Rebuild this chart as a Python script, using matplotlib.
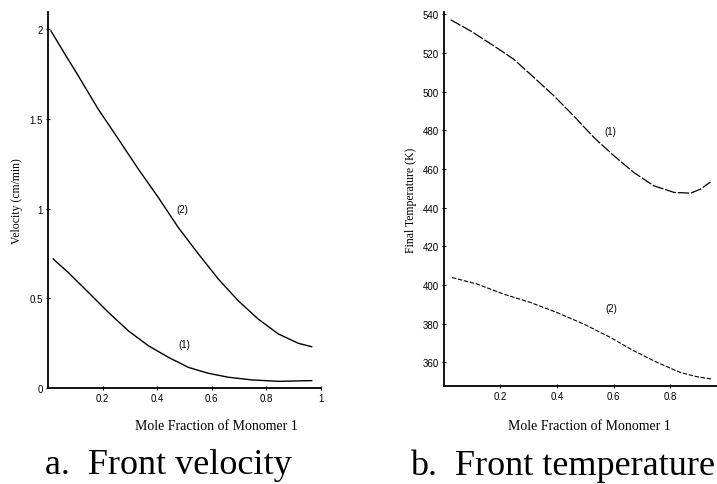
import numpy as np
import matplotlib
matplotlib.use("Agg")
import matplotlib.pyplot as plt

# front velocity (cm/min) vs mole fraction of monomer 1
vel_2x = [0.011, 0.062, 0.111, 0.184, 0.258, 0.331, 0.404, 0.477, 0.551,
          0.624, 0.697, 0.77, 0.844, 0.917, 0.966]
vel_2 = [1.99, 1.861, 1.74, 1.554, 1.387, 1.22, 1.062, 0.895, 0.747,
         0.607, 0.486, 0.384, 0.301, 0.249, 0.23]
vel_1x = [0.019, 0.074, 0.148, 0.221, 0.294, 0.367, 0.441, 0.514, 0.587,
          0.66, 0.746, 0.844, 0.966]
vel_1 = [0.719, 0.644, 0.533, 0.422, 0.319, 0.236, 0.171, 0.115, 0.082,
         0.06, 0.045, 0.037, 0.041]

# final temperature (K)
temp_1x = [0.024, 0.094, 0.177, 0.247, 0.318, 0.389, 0.459, 0.53, 0.601,
           0.671, 0.742, 0.813, 0.872, 0.907, 0.942]
temp_1 = [537.1, 531.4, 523.6, 516.7, 507.3, 497.8, 487.4, 476.3, 466.8,
          458.2, 451.3, 447.9, 447.5, 449.6, 453.3]
temp_2x = [0.029, 0.118, 0.212, 0.306, 0.4, 0.495, 0.589, 0.671, 0.754,
           0.836, 0.895, 0.948]
temp_2 = [403.9, 400.5, 395.3, 391.0, 385.8, 379.8, 372.9, 366.0, 360.0,
          354.8, 352.6, 351.4]

vel_ticks = [0, 0.5, 1, 1.5, 2]
vel_ticklabels = ["0", "0.5", "1", "1.5", "2"]
xticks_a = [0.2, 0.4, 0.6, 0.8, 1]
xticklabels_a = ["0.2", "0.4", "0.6", "0.8", "1"]
xticks_b = [0.2, 0.4, 0.6, 0.8]
xticklabels_b = ["0.2", "0.4", "0.6", "0.8"]
temp_ticks = [360, 380, 400, 420, 440, 460, 480, 500, 520, 540]

fig = plt.figure(figsize=(7.17, 4.85), dpi=100)
ax1 = fig.add_axes([0.0669, 0.198, 0.3808, 0.775])
ax2 = fig.add_axes([0.619, 0.2027, 0.381, 0.770])

sans = "Liberation Sans"
serif = "Liberation Serif"
tickfont = dict(family=sans, size=7)

for ax in (ax1, ax2):
    for s in ("top", "right"):
        ax.spines[s].set_visible(False)
    for s in ("left", "bottom"):
        ax.spines[s].set_linewidth(1.3)
    ax.tick_params(direction="inout", length=3, width=0.8, pad=2)

# panel a
ax1.plot(vel_2x, vel_2, color="black", lw=1.0)
ax1.plot(vel_1x, vel_1, color="black", lw=1.0)
ax1.set_xlim(0, 1)
ax1.set_ylim(0, 2.095)
ax1.set_xticks(xticks_a)
ax1.set_xticklabels(xticklabels_a, fontdict=tickfont)
ax1.set_yticks(vel_ticks)
ax1.set_yticklabels(vel_ticklabels, fontdict=tickfont)
ax1.text(0.493, 0.996, "(2)", fontsize=7, family=sans, ha="center", va="center")
ax1.text(0.498, 0.243, "(1)", fontsize=7, family=sans, ha="center", va="center")
ax1.set_ylabel("Velocity (cm/min)", family=serif, fontsize=8.5, labelpad=5)

# panel b
ax2.plot(temp_1x, temp_1, color="black", lw=0.9, ls=(0, (9, 1.5)))
ax2.plot(temp_2x, temp_2, color="black", lw=0.8, ls=(0, (4, 1.5)))
ax2.set_xlim(0, 0.965)
ax2.set_ylim(348, 541)
ax2.set_xticks(xticks_b)
ax2.set_xticklabels(xticklabels_b, fontdict=tickfont)
ax2.set_yticks(temp_ticks)
ax2.set_yticklabels([str(t) for t in temp_ticks], fontdict=tickfont)
ax2.text(0.587, 479.7, "(1)", fontsize=7, family=sans, ha="center", va="center")
ax2.text(0.593, 387.9, "(2)", fontsize=7, family=sans, ha="center", va="center")
ax2.set_ylabel("Final Temperature (K)", family=serif, fontsize=8.5, labelpad=4)

# axis titles and captions, placed in figure pixels
W, H = 717, 485
fig.text(216 / W, 1 - 427 / H, "Mole Fraction of Monomer 1", family=serif,
         fontsize=10, ha="center", va="center")
fig.text(589 / W, 1 - 427 / H, "Mole Fraction of Monomer 1", family=serif,
         fontsize=10, ha="center", va="center")
fig.text(45 / W, 1 - 466 / H, "a.  Front velocity", family=serif,
         fontsize=26, ha="left", va="center")
fig.text(410 / W, 1 - 466 / H, "b.  Front temperature", family=serif,
         fontsize=26, ha="left", va="center")

fig.savefig("out.png", dpi=100)
